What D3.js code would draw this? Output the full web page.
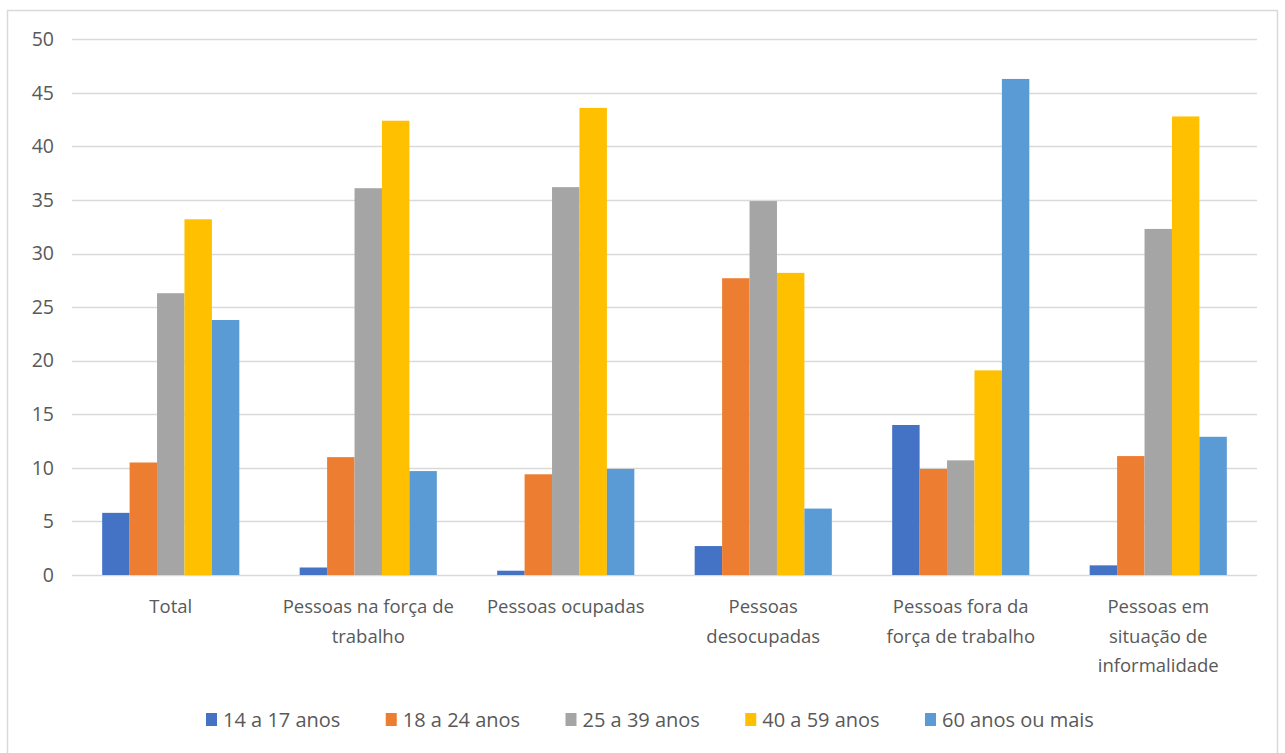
<!DOCTYPE html>
<meta charset="utf-8">
<style>
  body { margin: 0; background: #fff; }
  text { font-family: "Open Sans", "Noto Sans", sans-serif; fill: #595959; }
</style>
<svg width="1285" height="753"></svg>
<script src="https://d3js.org/d3.v7.min.js"></script>
<script>

var categories = [
  ["Total"],
  ["Pessoas na força de", "trabalho"],
  ["Pessoas ocupadas"],
  ["Pessoas", "desocupadas"],
  ["Pessoas fora da", "força de trabalho"],
  ["Pessoas em", "situação de", "informalidade"]
];
var seriesNames = ["14 a 17 anos", "18 a 24 anos", "25 a 39 anos", "40 a 59 anos", "60 anos ou mais"];
var colors = ["#4472C4", "#ED7D31", "#A5A5A5", "#FFC000", "#5B9BD5"];

var s14a17 = [5.8, 0.7, 0.4, 2.7, 14.0, 0.9];
var s18a24 = [10.5, 11.0, 9.4, 27.7, 9.9, 11.1];
var s25a39 = [26.3, 36.1, 36.2, 34.9, 10.7, 32.3];
var s40a59 = [33.2, 42.4, 43.6, 28.2, 19.1, 42.8];
var s60mais = [23.8, 9.7, 9.9, 6.2, 46.3, 12.9];
var series = [s14a17, s18a24, s25a39, s40a59, s60mais];

var yTicks = [0, 5, 10, 15, 20, 25, 30, 35, 40, 45, 50];

var svg = d3.select("svg");

// chart frame
svg.append("rect")
  .attr("x", 7.5).attr("y", 10.5)
  .attr("width", 1270).attr("height", 760)
  .attr("fill", "#fff")
  .attr("stroke", "#d9d9d9").attr("stroke-width", 1.5);

var plotLeft = 72, plotRight = 1257, plotTop = 39.3, plotBottom = 575;

var x0 = d3.scaleBand()
  .domain(d3.range(categories.length))
  .range([plotLeft, plotRight]);

var x1 = d3.scaleBand()
  .domain(d3.range(seriesNames.length))
  .range([0, x0.bandwidth()])
  .paddingOuter(1.1);

var y = d3.scaleLinear().domain([0, 50]).range([plotBottom, plotTop]);

// gridlines
svg.append("g")
  .selectAll("line")
  .data(yTicks)
  .join("line")
  .attr("x1", plotLeft).attr("x2", plotRight)
  .attr("y1", function(d) { return Math.round(y(d)) + 0.5; })
  .attr("y2", function(d) { return Math.round(y(d)) + 0.5; })
  .attr("stroke", "#d9d9d9")
  .attr("stroke-width", 1.3);

// y axis labels
var yAxis = d3.axisLeft(y).tickValues(yTicks).tickSize(0).tickPadding(18);
var gy = svg.append("g").attr("transform", "translate(" + plotLeft + ",0)").call(yAxis);
gy.select(".domain").remove();
gy.selectAll("text")
  .attr("font-size", 19.5)
  .attr("font-family", "Open Sans, Noto Sans, sans-serif")
  .attr("fill", "#595959");

// bars
var groups = svg.append("g")
  .selectAll("g")
  .data(categories.map(function(c, i) { return i; }))
  .join("g")
  .attr("transform", function(i) { return "translate(" + x0(i) + ",0)"; });

groups.selectAll("rect")
  .data(function(i) { return series.map(function(s, k) { return { k: k, v: s[i] }; }); })
  .join("rect")
  .attr("x", function(d) { return x1(d.k); })
  .attr("width", x1.bandwidth())
  .attr("y", function(d) { return y(d.v); })
  .attr("height", function(d) { return y(0) - y(d.v); })
  .attr("fill", function(d) { return colors[d.k]; });

// category labels
var labels = svg.append("g")
  .selectAll("text")
  .data(categories)
  .join("text")
  .attr("text-anchor", "middle")
  .attr("font-size", 18.5)
  .attr("x", function(d, i) { return x0(i) + x0.bandwidth() / 2; })
  .attr("y", 613);

labels.selectAll("tspan")
  .data(function(d) { return d; })
  .join("tspan")
  .attr("x", function() { return d3.select(this.parentNode).attr("x"); })
  .attr("dy", function(d, j) { return j === 0 ? 0 : 29.5; })
  .text(function(d) { return d; });

// legend
var legendX = d3.scalePoint()
  .domain(d3.range(seriesNames.length))
  .range([206, 925]);

var legend = svg.append("g")
  .selectAll("g")
  .data(seriesNames)
  .join("g")
  .attr("transform", function(d, i) { return "translate(" + legendX(i) + ",719)"; });

legend.append("rect")
  .attr("x", 0).attr("y", -6)
  .attr("width", 11).attr("height", 13)
  .attr("fill", function(d, i) { return colors[i]; });

legend.append("text")
  .attr("x", 17).attr("y", 7.5)
  .attr("font-size", 20)
  .text(function(d) { return d; });

</script>
